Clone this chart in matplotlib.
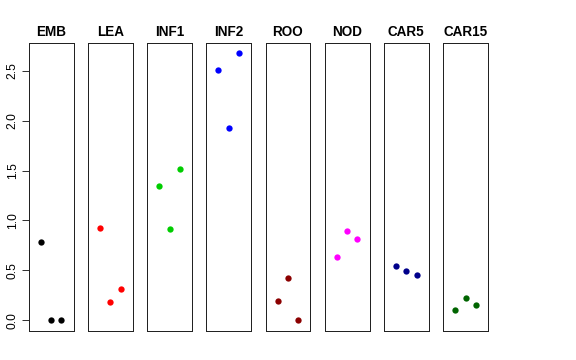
import matplotlib
matplotlib.use("Agg")
import matplotlib.pyplot as plt

plt.rcParams['font.family'] = ['Liberation Sans', 'DejaVu Sans']

categories = ["EMB", "LEA", "INF1", "INF2", "ROO", "NOD", "CAR5", "CAR15"]
colors = ["#000000", "#FF0000", "#00CD00", "#0000FF", "#8B0000", "#FF00FF", "#00008B", "#006400"]
values = {
    "EMB":   [0.785, 0.0, 0.0],
    "LEA":   [0.925, 0.187, 0.314],
    "INF1":  [1.344, 0.919, 1.514],
    "INF2":  [2.507, 1.921, 2.673],
    "ROO":   [0.194, 0.427, 0.0],
    "NOD":   [0.632, 0.898, 0.812],
    "CAR5":  [0.548, 0.491, 0.457],
    "CAR15": [0.103, 0.224, 0.157],
}
x_pos = [1, 2, 3]
yticks = [0.0, 0.5, 1.0, 1.5, 2.0, 2.5]
ytick_labels = ["0.0", "0.5", "1.0", "1.5", "2.0", "2.5"]

W, H = 576, 360
fig = plt.figure(figsize=(W / 72, H / 72), dpi=72)

allv = [v for c in categories for v in values[c]]
lo, hi = min(allv), max(allv)
pad = 0.04 * (hi - lo)

left0, step, width = 28.7, 59.2, 44.8
top, bottom = 42.7, 331.0
for i, cat in enumerate(categories):
    ax = fig.add_axes([(left0 + i * step) / W, (H - bottom) / H, width / W, (bottom - top) / H])
    ax.plot(x_pos, values[cat], 'o', color=colors[i], markersize=6.3, markeredgewidth=0)
    ax.set_xlim(-0.16, 4.16)
    ax.set_ylim(lo - pad, hi + pad)
    ax.set_xticks([])
    for s in ax.spines.values():
        s.set_linewidth(1.0)
        s.set_color("#222222")
    ax.set_title(cat, fontsize=13.5, fontweight='bold', pad=7)
    if i == 0:
        ax.set_yticks(yticks)
        ax.set_yticklabels(ytick_labels, rotation=90, va='center', fontsize=12)
        ax.tick_params(axis='y', length=7, width=0.8, pad=3)
    else:
        ax.set_yticks([])

fig.savefig("out.png", dpi=72)
